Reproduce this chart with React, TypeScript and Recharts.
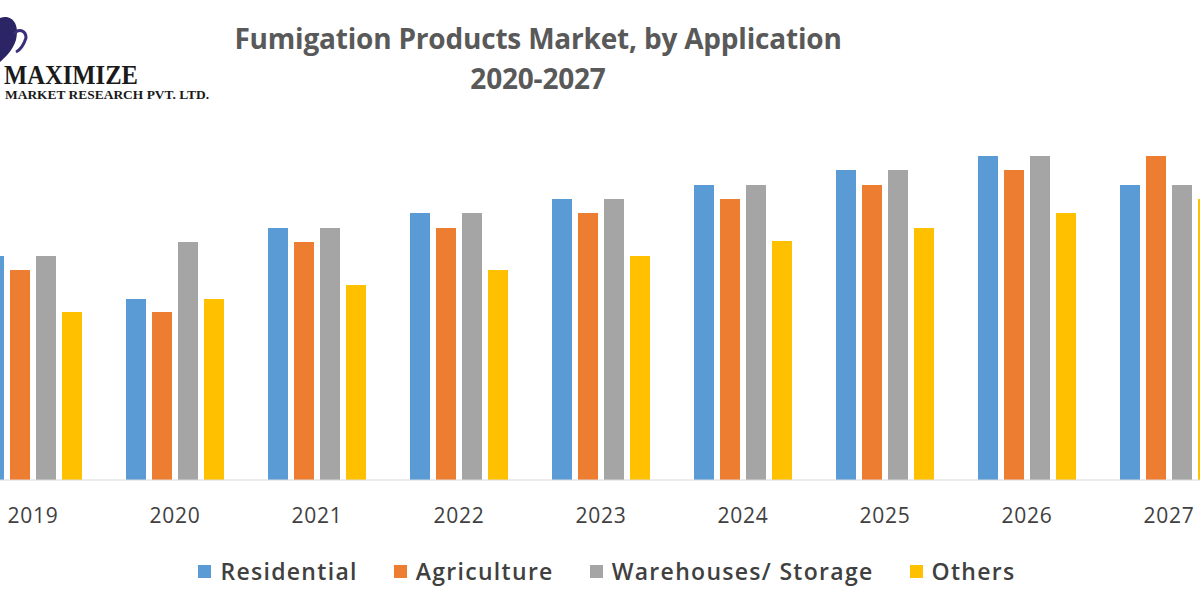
import React from "react";
import { BarChart, Bar, XAxis, YAxis } from "recharts";

const years = ["2019", "2020", "2021", "2022", "2023", "2024", "2025", "2026", "2027"];
const residential = [22.4, 18.1, 25.2, 26.7, 28.1, 29.5, 31.0, 32.4, 29.5];
const agriculture = [21.0, 16.8, 23.8, 25.2, 26.7, 28.1, 29.5, 31.0, 32.4];
const warehouses = [22.4, 23.8, 25.2, 26.7, 28.1, 29.5, 31.0, 32.4, 29.5];
const others = [16.8, 18.1, 19.5, 21.0, 22.4, 23.9, 25.2, 26.7, 28.1];

const series = [
  { key: "res", name: "Residential", color: "#5B9BD5", values: residential },
  { key: "agr", name: "Agriculture", color: "#ED7D31", values: agriculture },
  { key: "war", name: "Warehouses/ Storage", color: "#A5A5A5", values: warehouses },
  { key: "oth", name: "Others", color: "#FFC000", values: others },
];

const data = years.map((y, i) => {
  const row: any = { year: y };
  series.forEach((s) => (row[s.key] = s.values[i]));
  return row;
});

const font = "'Open Sans', 'Liberation Sans', sans-serif";

export default function App() {
  return (
    <div style={{ position: "absolute", left: 0, top: 0, width: 1200, height: 600, overflow: "hidden", background: "#fff", fontFamily: font }}>
      {/* logo */}
      <svg style={{ position: "absolute", left: 0, top: 0 }} width={240} height={110}>
        <path d="M0 18 C12 14 20 24 16 40 C12 52 4 58 0 62 Z" fill="#2b2566" />
        <path d="M14 34 C18 28 26 30 26 38 C24 44 20 50 16 52" fill="none" stroke="#3a2f7a" strokeWidth={3} />
        <text x={4} y={84} fontFamily="'Liberation Serif', 'DejaVu Serif', serif" fontSize={28} fontWeight={700} fill="#1a1a1a" textLength={134} lengthAdjust="spacingAndGlyphs">MAXIMIZE</text>
        <text x={5} y={99} fontFamily="'Liberation Serif', 'DejaVu Serif', serif" fontSize={11.5} fontWeight={700} fill="#1a1a1a" textLength={204} lengthAdjust="spacingAndGlyphs">MARKET RESEARCH PVT. LTD.</text>
      </svg>
      {/* title */}
      <div style={{ position: "absolute", left: 188, width: 700, top: 18, textAlign: "center", fontSize: 28, fontWeight: 700, color: "#595959", lineHeight: "40px", letterSpacing: -0.2 }}>
        Fumigation Products Market, by Application
        <br />
        2020-2027
      </div>
      <div style={{ position: "absolute", left: -38, top: 0 }}>
        <BarChart width={1278} height={540} data={data} margin={{ top: 80, right: 0, bottom: 0, left: 0 }} barGap={6} barSize={20}>
          <XAxis
            dataKey="year"
            stroke="#d9d9d9"
            tickLine={false}
            height={60}
            tick={{ fill: "#404040", fontSize: 21, fontFamily: font, letterSpacing: 0.8 }}
            tickMargin={22}
          />
          <YAxis hide domain={[0, 40]} />
          {series.map((s) => (
            <Bar key={s.key} dataKey={s.key} name={s.name} fill={s.color} isAnimationActive={false} />
          ))}
        </BarChart>
      </div>
      {/* legend */}
      <div style={{ position: "absolute", left: 0, width: 1200, top: 555, display: "flex", justifyContent: "center", paddingLeft: 14, boxSizing: "border-box", fontSize: 23, color: "#404040", fontWeight: 600, letterSpacing: 1.3 }}>
        {series.map((s) => (
          <div key={s.key} style={{ display: "flex", alignItems: "center", margin: "0 18px" }}>
            <span style={{ width: 13, height: 13, background: s.color, display: "inline-block", marginRight: 9 }} />
            <span>{s.name}</span>
          </div>
        ))}
      </div>
    </div>
  );
}
